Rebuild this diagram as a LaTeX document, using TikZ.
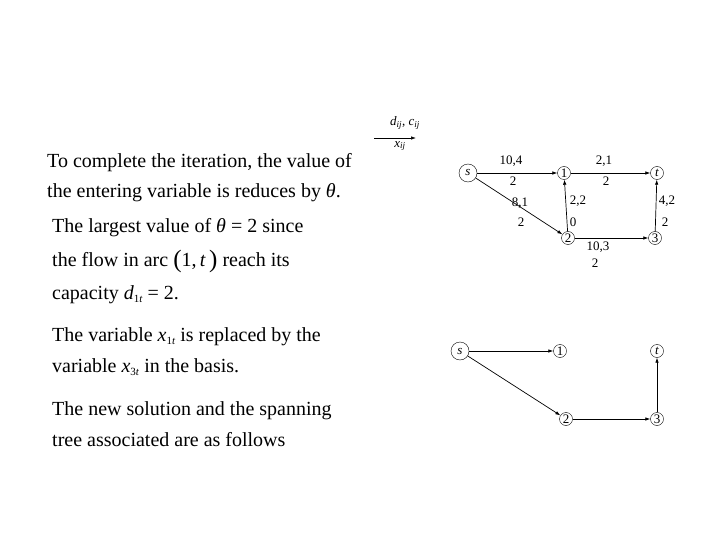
\documentclass[tikz,border=0pt]{standalone}
\usepackage{fontspec}
\setmainfont{Liberation Serif}
\usetikzlibrary{arrows.meta}
\newcommand{\vi}[1]{\textit{#1}}
\newcommand{\sbs}[1]{\raisebox{-0.35ex}{\fontsize{11}{12}\selectfont #1}}
\newcommand{\bigpar}[1]{\raisebox{-0.15ex}{\fontsize{25}{25}\selectfont #1}}
\tikzset{
  txt/.style={anchor=base west, inner sep=0pt, font=\fontsize{20}{23}\selectfont},
  vtx/.style={circle, draw, thin, inner sep=0pt, minimum size=13pt, font=\fontsize{13}{15}\selectfont},
  svtx/.style={vtx, minimum size=18pt},
  arc/.style={draw, line width=0.7pt, -{Latex[length=5pt,width=3.5pt]}},
  lab/.style={inner sep=0pt, font=\fontsize{13}{15}\selectfont}
}
\begin{document}
\begin{tikzpicture}[x=1pt,y=-1pt]
\useasboundingbox (0,0) rectangle (720,540);
% text
\node[txt] (l1) at (47,168) {To complete the iteration, the value of};
\node[txt] (l2) at (47,197) {the entering variable is reduces by \vi{θ}.};
\node[txt] (l3) at (52,233) {The largest value of \vi{θ} = 2 since};
\node[txt] (l4) at (52,266) {the flow in arc \bigpar{(}1,\,\vi{t}\,\bigpar{)} reach its};
\node[txt] (l5) at (52,299) {capacity \vi{d}\sbs{1\vi{t}} = 2.};
\node[txt] (l6) at (52,341) {The variable \vi{x}\sbs{1\vi{t}} is replaced by the};
\node[txt] (l7) at (52,372) {variable \vi{x}\sbs{3\vi{t}} in the basis.};
\node[txt] (l8) at (52,415) {The new solution and the spanning};
\node[txt] (l9) at (52,446) {tree associated are as follows};
% legend
\coordinate (la) at (374,138);
\coordinate (lb) at (416,138);
\draw[arc] (la) -- (lb);
\node[lab] (lt) at (405,123) {\vi{d}\textsubscript{\vi{ij}}, \vi{c}\textsubscript{\vi{ij}}};
\node[lab] (lbb) at (400,146) {\vi{x}\textsubscript{\vi{ij}}};
% graph 1
\node[svtx] (s) at (468,173) {\vi{s}};
\node[vtx] (n1) at (564,173) {1};
\node[vtx] (t) at (657,173) {\vi{t}};
\node[vtx] (n2) at (568,238) {2};
\node[vtx] (n3) at (655,238) {3};
\draw[arc] (s) -- (n1);
\draw[arc] (n1) -- (t);
\draw[arc] (s) -- (n2);
\draw[arc] (n2) -- (n1);
\draw[arc] (n2) -- (n3);
\draw[arc] (n3) -- (t);
\node[lab] (e1a) at (511,161) {10,4};
\node[lab] (e1b) at (513,181) {2};
\node[lab] (e2a) at (604,161) {2,1};
\node[lab] (e2b) at (606,181) {2};
\node[lab] (e3a) at (520,203) {8,1};
\node[lab] (e3b) at (521,222) {2};
\node[lab] (e4a) at (578,201) {2,2};
\node[lab] (e4b) at (573,222) {0};
\node[lab] (e5a) at (667,201) {4,2};
\node[lab] (e5b) at (665,222) {2};
\node[lab] (e6a) at (598,247) {10,3};
\node[lab] (e6b) at (595,263) {2};
% graph 2
\node[svtx] (s2) at (460,351) {\vi{s}};
\node[vtx] (m1) at (560,351) {1};
\node[vtx] (t2) at (657,351) {\vi{t}};
\node[vtx] (m2) at (566,419) {2};
\node[vtx] (m3) at (657,419) {3};
\draw[arc] (s2) -- (m1);
\draw[arc] (s2) -- (m2);
\draw[arc] (m2) -- (m3);
\draw[arc] (m3) -- (t2);
\end{tikzpicture}
\end{document}
